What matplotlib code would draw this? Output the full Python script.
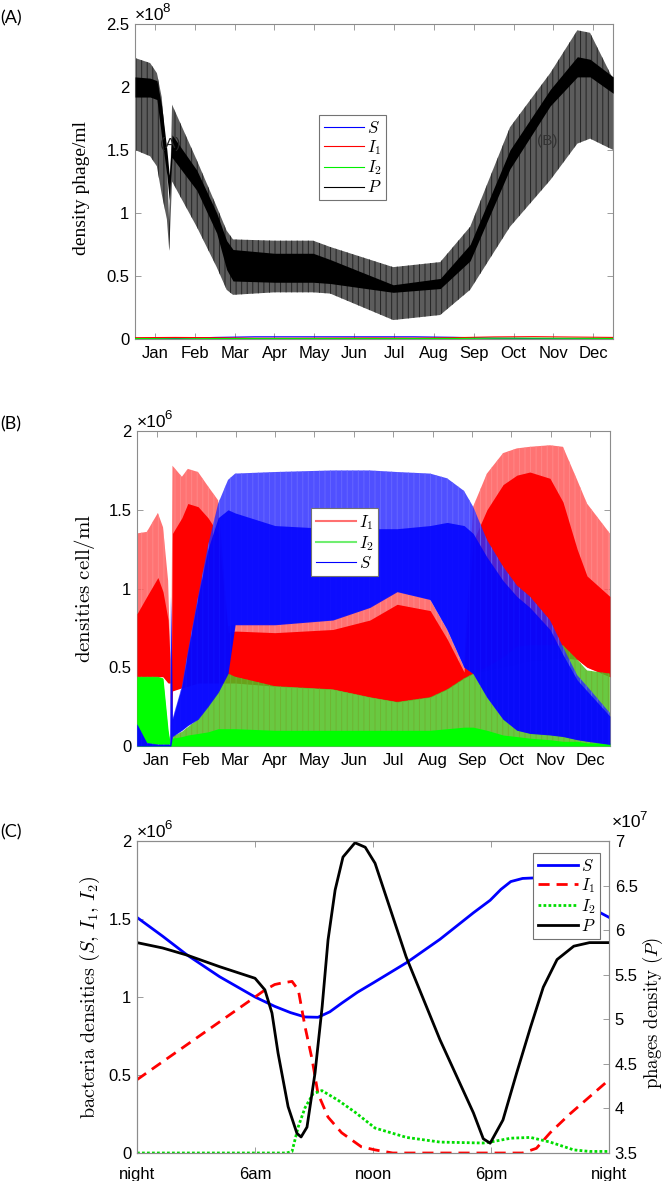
import numpy as np
import matplotlib.pyplot as plt
from matplotlib.ticker import FuncFormatter
from matplotlib.lines import Line2D

plt.rcParams['font.family'] = ['Liberation Sans', 'DejaVu Sans']
plt.rcParams['mathtext.fontset'] = 'cm'
plt.rcParams['hatch.linewidth'] = 0.7

months = ['Jan', 'Feb', 'Mar', 'Apr', 'May', 'Jun', 'Jul', 'Aug', 'Sep', 'Oct', 'Nov', 'Dec']
month_pos = np.arange(12) + 0.5

# ---- panel A: phage density envelope (x in months, y in 1e8 phage/ml)
pa_x = [0, 0.38, 0.55, 0.67, 0.80, 0.86, 0.93, 1.55, 2.05, 2.30, 2.46, 3.5, 4.47, 4.9, 6.48, 7.66, 8.41, 9.41,
        10.42, 11.10, 11.42, 12]
pa_hi = [2.23, 2.19, 2.11, 1.92, 1.42, 0.90, 1.86, 1.42, 1.05, 0.86, 0.79, 0.78, 0.78, 0.73, 0.57, 0.61, 0.89,
         1.68, 2.11, 2.45, 2.43, 2.06]
pa_lo = [1.50, 1.45, 1.37, 1.15, 0.95, 0.70, 1.25, 0.89, 0.57, 0.39, 0.35, 0.37, 0.37, 0.36, 0.15, 0.19, 0.39,
         0.89, 1.26, 1.55, 1.59, 1.50]
pa_core_hi = [2.08, 2.07, 2.05, 1.85, 1.50, 1.30, 1.62, 1.34, 1.00, 0.78, 0.71, 0.68, 0.68, 0.63, 0.43, 0.48,
              0.75, 1.50, 1.98, 2.24, 2.22, 2.08]
pa_core_lo = [1.92, 1.92, 1.90, 1.60, 1.30, 1.10, 1.44, 1.18, 0.84, 0.55, 0.46, 0.45, 0.45, 0.44, 0.37, 0.40,
              0.62, 1.35, 1.85, 2.08, 2.08, 1.95]
# bacteria in panel A (1e6 cell/ml, they sit on the zero line)
a_x = [0, 1, 2, 3, 4, 5, 6, 7, 8, 9, 10, 11, 12]
a_S = [0.05, 0.3, 1.2, 1.7, 1.7, 1.7, 1.7, 1.7, 1.3, 0.6, 0.3, 0.2, 0.1]
a_I1 = [1.0, 1.2, 1.0, 0.6, 0.6, 0.7, 0.8, 0.7, 1.0, 1.6, 1.8, 1.5, 1.2]
a_I2 = [0.4, 0.1, 0.3, 0.3, 0.3, 0.3, 0.3, 0.3, 0.4, 0.6, 0.6, 0.5, 0.4]

# ---- panel B: bacteria envelopes (x in months, y in 1e6 cell/ml)
pb_x = [0, 0.25, 0.53, 0.66, 0.79, 0.84, 0.86, 0.9, 1.14, 1.29, 1.55, 1.80, 2.06, 2.31, 2.49, 3.5, 4.97, 5.91,
        6.6, 7.44, 7.87, 8.3, 8.53, 8.88, 9.29, 9.64, 9.97, 10.48, 10.81, 11.17, 11.42, 12]
i1_hi = [1.35, 1.36, 1.48, 1.39, 1.05, 0.59, 0.0, 1.78, 1.71, 1.76, 1.74, 1.65, 1.56, 0.76, 0.77, 0.77, 0.80,
         0.88, 0.98, 0.93, 0.74, 0.50, 1.52, 1.73, 1.86, 1.89, 1.90, 1.91, 1.90, 1.69, 1.54, 1.35]
i1_core = [0.84, 0.95, 1.07, 0.98, 0.80, 0.55, 0.0, 1.35, 1.45, 1.54, 1.52, 1.45, 1.35, 0.72, 0.73, 0.72, 0.74,
           0.80, 0.90, 0.86, 0.68, 0.47, 1.30, 1.50, 1.66, 1.72, 1.74, 1.70, 1.55, 1.25, 1.08, 0.95]
i1_lo = [0.44, 0.44, 0.44, 0.44, 0.40, 0.40, 0.0, 0.35, 0.37, 0.38, 0.40, 0.40, 0.40, 0.40, 0.40, 0.38, 0.36,
         0.31, 0.28, 0.31, 0.36, 0.43, 0.46, 0.48, 0.50, 0.52, 0.54, 0.55, 0.56, 0.55, 0.50, 0.44]
i2_hi = [0.44, 0.44, 0.44, 0.43, 0.10, 0.02, 0.02, 0.06, 0.09, 0.12, 0.17, 0.25, 0.34, 0.46, 0.44, 0.38, 0.36,
         0.31, 0.28, 0.31, 0.36, 0.43, 0.46, 0.50, 0.56, 0.63, 0.64, 0.64, 0.64, 0.55, 0.48, 0.46]
i2_core = [0.44, 0.44, 0.44, 0.43, 0.10, 0.02, 0.02, 0.05, 0.06, 0.07, 0.08, 0.09, 0.11, 0.11, 0.11, 0.10, 0.10,
           0.10, 0.10, 0.10, 0.11, 0.12, 0.12, 0.10, 0.07, 0.06, 0.05, 0.04, 0.03, 0.03, 0.02, 0.02]
s_hi = [0.14, 0.02, 0.01, 0.01, 0.01, 0.01, 0.95, 0.17, 0.38, 0.60, 0.95, 1.27, 1.54, 1.69, 1.73, 1.74, 1.75,
        1.75, 1.74, 1.73, 1.70, 1.62, 1.52, 1.31, 1.14, 1.02, 0.95, 0.80, 0.63, 0.45, 0.38, 0.21]
s_core = [0.14, 0.02, 0.01, 0.01, 0.01, 0.01, 0.95, 0.17, 0.38, 0.60, 0.95, 1.25, 1.45, 1.50, 1.48, 1.40, 1.38,
          1.38, 1.38, 1.40, 1.42, 1.40, 1.35, 1.20, 1.05, 0.95, 0.88, 0.74, 0.58, 0.42, 0.35, 0.19]
s_lo = [0.0, 0.0, 0.0, 0.0, 0.0, 0.0, 0.0, 0.06, 0.10, 0.13, 0.17, 0.25, 0.34, 0.46, 0.77, 0.77, 0.80, 0.88,
        0.98, 0.93, 0.74, 0.50, 0.46, 0.31, 0.17, 0.10, 0.08, 0.07, 0.06, 0.04, 0.03, 0.01]

# ---- panel C: one day (x in hours)
c_hours = [0, 6, 12, 18, 24]
c_ticklabels = ['night', '6am', 'noon', '6pm', 'night']
s_x = [0, 1.3, 2.54, 4.2, 6.0, 7.0, 7.8, 8.54, 9.2, 9.8, 10.4, 11.2, 12.0, 13.7, 15.4, 17.1, 17.95, 18.5, 19.0,
       19.6, 20.5, 21.5, 22.7, 23.4, 24]
s_y = [1.51, 1.39, 1.27, 1.13, 1.00, 0.94, 0.90, 0.872, 0.87, 0.905, 0.96, 1.03, 1.09, 1.22, 1.37, 1.54, 1.62,
       1.69, 1.74, 1.76, 1.765, 1.74, 1.60, 1.55, 1.51]
i1_x = [0, 3, 6.0, 6.5, 7.0, 7.37, 7.88, 8.2, 8.54, 8.9, 9.2, 9.71, 10.4, 11.4, 12.1, 13.0, 16, 19.6, 20.3, 21,
        22, 23, 24]
i1_y = [0.47, 0.735, 1.00, 1.045, 1.08, 1.09, 1.10, 1.045, 0.81, 0.60, 0.38, 0.23, 0.13, 0.04, 0.02, 0.0, 0.0,
        0.0, 0.03, 0.13, 0.25, 0.36, 0.47]
i2_x = [0, 4, 7.6, 7.88, 8.2, 8.54, 8.95, 9.4, 10.2, 11.1, 12.1, 13.7, 15.4, 17.6, 17.95, 19.0, 20.0, 21.0, 22.2,
        23, 24]
i2_y = [0, 0, 0, 0.01, 0.17, 0.29, 0.38, 0.40, 0.34, 0.26, 0.16, 0.10, 0.07, 0.064, 0.07, 0.095, 0.10, 0.07,
        0.02, 0.01, 0.01]
p_x = [0, 1.3, 2.54, 4.2, 6.0, 6.5, 6.86, 7.17, 7.68, 8.13, 8.34, 8.64, 9.05, 9.41, 9.71, 10.07, 10.47, 11.08,
       11.6, 12.1, 13.68, 15.4, 17.1, 17.6, 17.95, 18.6, 19.3, 20.0, 20.65, 21.35, 22.2, 23.0, 24]
p_y = [5.86, 5.80, 5.72, 5.59, 5.46, 5.33, 5.07, 4.62, 4.02, 3.72, 3.68, 3.79, 4.40, 5.14, 5.89, 6.45, 6.82, 6.98,
       6.93, 6.75, 5.70, 4.77, 3.95, 3.66, 3.61, 3.87, 4.40, 4.91, 5.36, 5.67, 5.82, 5.86, 5.86]

fig = plt.figure(figsize=(6.66, 11.81), dpi=100)
ax_a = fig.add_axes([0.2027, 0.713, 0.718, 0.2667])
ax_b = fig.add_axes([0.2057, 0.3683, 0.710, 0.2667])
ax_c = fig.add_axes([0.2057, 0.0237, 0.709, 0.2642])

box_col = '0.55'
tick_fs = 12


def style(ax, xpad=5):
    for sp in ax.spines.values():
        sp.set_color(box_col)
        sp.set_linewidth(0.8)
    ax.tick_params(direction='in', top=True, right=True, length=4, width=0.6,
                   color=box_col, labelsize=tick_fs, labelcolor='black')
    ax.tick_params(axis='x', pad=xpad)
    ax.tick_params(axis='y', pad=4)


def offset_label(ax, x, exp, y=1.004):
    ax.text(x, y, '\u00d710', transform=ax.transAxes, fontsize=12.5, va='bottom', ha='left')
    ax.text(x + 0.058, y + 0.024, exp, transform=ax.transAxes, fontsize=9.5, va='bottom', ha='left')


def fmt(scale):
    return FuncFormatter(lambda v, p: '%g' % round(v / scale, 3))


def legend_box(ax, handles, labels, anchor):
    leg = ax.legend(handles, labels, loc='upper left', bbox_to_anchor=anchor, fontsize=12,
                    frameon=True, fancybox=False, edgecolor='0.45', handlelength=2.4,
                    handletextpad=0.15, borderpad=0.3, labelspacing=0.12, borderaxespad=0,
                    framealpha=1)
    leg.get_frame().set_linewidth(0.8)
    leg.set_zorder(10)
    return leg


# ---------------- panel A
xa = np.array(pa_x)
ax_a.fill_between(xa, np.array(pa_lo) * 1e8, np.array(pa_hi) * 1e8, facecolor='0.36',
                  edgecolor='0.14', hatch='|||', linewidth=0, zorder=2)
ax_a.fill_between(xa, np.array(pa_core_lo) * 1e8, np.array(pa_core_hi) * 1e8, color='black', linewidth=0, zorder=3)
ax_a.plot(a_x, np.array(a_S) * 1e6, color='blue', lw=0.8, zorder=4)
ax_a.plot(a_x, np.array(a_I1) * 1e6, color='red', lw=0.8, zorder=4)
ax_a.plot(a_x, np.array(a_I2) * 1e6, color='#00ee00', lw=0.8, zorder=4)
ax_a.text(0.88, 1.55e8, '(A)', color='0.15', fontsize=11, ha='center', va='center', zorder=5)
ax_a.text(10.34, 1.57e8, '(B)', color='0.2', fontsize=11, ha='center', va='center', zorder=5)
ax_a.set_xlim(0, 12)
ax_a.set_ylim(0, 2.5e8)
ax_a.set_yticks(np.arange(0, 2.51e8, 0.5e8))
ax_a.yaxis.set_major_formatter(fmt(1e8))
ax_a.set_xticks(month_pos)
ax_a.set_xticklabels(months)
style(ax_a)
offset_label(ax_a, 0.0, '8')
ax_a.set_ylabel('density phage/ml', family='Liberation Serif', fontsize=14)
ax_a.yaxis.set_label_coords(-0.094, 0.48)
hA = [Line2D([], [], color='blue', lw=0.8), Line2D([], [], color='red', lw=0.8),
      Line2D([], [], color='#00ee00', lw=0.8), Line2D([], [], color='black', lw=0.8)]
legend_box(ax_a, hA, ['$S$', '$I_1$', '$I_2$', '$P$'], (0.385, 0.712))

# ---------------- panel B
xb = np.array(pb_x)
ax_b.fill_between(xb, np.array(i1_lo) * 1e6, np.array(i1_hi) * 1e6, facecolor='#ff5a5a', alpha=0.85,
                  edgecolor='#ff8a8a', hatch='|||', linewidth=0, zorder=2)
ax_b.fill_between(xb, np.array(i1_lo) * 1e6, np.array(i1_core) * 1e6, color='#ff0000', linewidth=0, zorder=3)
ax_b.fill_between(xb, 0, np.array(i2_hi) * 1e6, facecolor='#4fc020', alpha=0.85,
                  edgecolor='#70b030', hatch='|||', linewidth=0, zorder=4)
ax_b.fill_between(xb, 0, np.array(i2_core) * 1e6, color='#00ff00', linewidth=0, zorder=5)
ax_b.fill_between(xb, np.array(s_lo) * 1e6, np.array(s_hi) * 1e6, facecolor='#2a2aff', alpha=0.82,
                  edgecolor='#6a6aff', hatch='|||', linewidth=0, zorder=6)
ax_b.fill_between(xb, np.array(s_lo) * 1e6, np.array(s_core) * 1e6, color='#0000ff', alpha=0.85, linewidth=0, zorder=7)
ax_b.set_xlim(0, 12)
ax_b.set_ylim(0, 2e6)
ax_b.set_yticks(np.arange(0, 2.01e6, 0.5e6))
ax_b.yaxis.set_major_formatter(fmt(1e6))
ax_b.set_xticks(month_pos)
ax_b.set_xticklabels(months)
style(ax_b)
offset_label(ax_b, 0.0, '6')
ax_b.set_ylabel(r'$\mathrm{densities\ cell/ml}$', fontsize=15)
ax_b.yaxis.set_label_coords(-0.085, 0.5)
hB = [Line2D([], [], color='#ff7070', lw=1.5), Line2D([], [], color='#70ee70', lw=1.5),
      Line2D([], [], color='blue', lw=0.8)]
legend_box(ax_b, hB, ['$I_1$', '$I_2$', '$S$'], (0.368, 0.756))

# ---------------- panel C
l_s, = ax_c.plot(s_x, np.array(s_y) * 1e6, color='blue', lw=2)
l_i1, = ax_c.plot(i1_x, np.array(i1_y) * 1e6, color='red', lw=2, ls=(0, (4, 2.5)))
l_i2, = ax_c.plot(i2_x, np.array(i2_y) * 1e6, color='#00dd00', lw=2, ls=(0, (1, 0.8)))
ax_c.set_xlim(0, 24)
ax_c.set_ylim(0, 2e6)
ax_c.set_yticks(np.arange(0, 2.01e6, 0.5e6))
ax_c.yaxis.set_major_formatter(fmt(1e6))
ax_c.set_xticks(c_hours)
ax_c.set_xticklabels(c_ticklabels)
style(ax_c, xpad=10)
ax_c.tick_params(right=False)
offset_label(ax_c, 0.0, '6')
ax_c.set_ylabel(r'$\mathrm{bacteria\ densities\ }(S,\,I_1,\,I_2)$', fontsize=14.5)
ax_c.yaxis.set_label_coords(-0.074, 0.5)

ax_c2 = ax_c.twinx()
l_p, = ax_c2.plot(p_x, np.array(p_y) * 1e7, color='black', lw=2)
ax_c2.set_ylim(3.5e7, 7e7)
ax_c2.set_yticks(np.arange(3.5e7, 7.01e7, 0.5e7))
ax_c2.yaxis.set_major_formatter(fmt(1e7))
style(ax_c2, xpad=10)
ax_c2.tick_params(left=False, top=False)
offset_label(ax_c2, 1.005, '7', y=1.035)
ax_c2.set_ylabel(r'$\mathrm{phages\ density\ }(P)$', fontsize=13.5)
ax_c2.yaxis.set_label_coords(1.068, 0.45)
legend_box(ax_c2, [l_s, l_i1, l_i2, l_p], ['$S$', '$I_1$', '$I_2$', '$P$'], (0.839, 0.962))

for lab, y in [('(A)', 1 - 18 / 1181), ('(B)', 1 - 424 / 1181), ('(C)', 1 - 832 / 1181)]:
    fig.text(0.0, y, lab, family='Lato', fontsize=13, va='center', ha='left')

fig.savefig('out.png', dpi=100)
